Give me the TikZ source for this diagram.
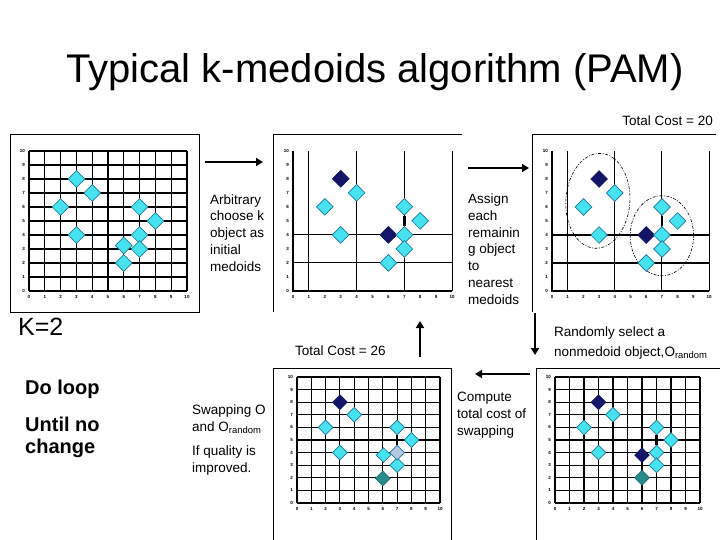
\documentclass[tikz,border=0pt]{standalone}
\usepackage{fontspec}
\setmainfont{Liberation Sans}
\usetikzlibrary{arrows.meta,positioning,shapes.geometric}
\definecolor{ptcyan}{RGB}{70,226,240}
\definecolor{ptedge}{RGB}{30,120,150}
\definecolor{ptnavy}{RGB}{20,20,105}
\definecolor{ptteal}{RGB}{40,140,140}
\definecolor{ptpale}{RGB}{180,200,225}

\begin{document}
\begin{tikzpicture}[x=1pt,y=-1pt,
    frame/.style={line width=1pt},
    gridln/.style={line width=1.1pt},
    tick/.style={font=\fontsize{4.5}{5}\selectfont\bfseries, inner sep=0pt},
    ptc/.style={diamond, draw=ptedge, line width=0.7pt, fill=ptcyan, inner sep=0pt, minimum size=17pt},
    ptn/.style={ptc, draw=ptnavy, fill=ptnavy},
    ptt/.style={ptc, draw=ptteal!80!black, fill=ptteal},
    ptl/.style={ptc, draw=ptedge, fill=ptpale},
    seg/.style={line width=2.4pt},
    cluster/.style={line width=0.6pt, dash pattern=on 3pt off 1.5pt on 1pt off 1.5pt},
    txt/.style={font=\fontsize{13.5}{16.7}\selectfont, inner sep=0pt, align=left},
    big/.style={font=\fontsize{20}{22}\selectfont\bfseries, inner sep=0pt, align=left},
    flow/.style={line width=2.5pt, -{Triangle[length=7pt,width=8pt]}}
  ]
  \useasboundingbox[fill=white] (0,0) rectangle (720,540);

  % title
  \node[font=\fontsize{40}{44}\selectfont, inner sep=0pt, anchor=base] (title) at (375,83) {Typical k-medoids algorithm (PAM)};

  % plot frames
  \draw[frame] (10,135) rectangle (199,312);
  \draw[frame] (273,312) -- (273,135) -- (462,135);
  \draw[frame] (532,312) -- (532,135) -- (716,135);
  \draw[frame] (273,540) -- (273,368) -- (451,368) -- (451,540);
  \draw[frame] (536,540) -- (536,368) -- (720,368);

  % plot A: data set
  \begin{scope}[shift={(29,291)}, x=15.8pt, y=14pt]
    \foreach \k in {0,...,10} {
      \draw[gridln] (\k,0) -- (\k,10);
      \draw[gridln] (0,\k) -- (10,\k);
      \node[tick, left=4pt] (A-y\k) at (0,\k) {\k};
      \node[tick, below=4pt] (A-x\k) at (\k,0) {\k};
    }
    \foreach \nm/\px/\py in {26/2/6, 38/3/8, 47/4/7, 34/3/4, 76/7/6, 85/8/5, 74/7/4, 64/6/3.25, 73/7/3, 62/6/2}
      \node[ptc] (A-\nm) at (\px,\py) {};
  \end{scope}

  % plot B: initial medoids
  \begin{scope}[shift={(293,291)}, x=15.9pt, y=14.03pt]
    \draw[gridln] (0,10) -- (0,0) -- (10,0);
    \draw[line width=0.6pt] (10,0) -- (10,10);
    \foreach \k in {1,4,7} \draw[gridln] (\k,0) -- (\k,10);
    \foreach \k in {2,4} \draw[gridln] (0,\k) -- (10,\k);
    \foreach \k in {0,...,10} {
      \node[tick, left=4pt] (B-y\k) at (0,\k) {\k};
      \node[tick, below=4pt] (B-x\k) at (\k,0) {\k};
    }
    \node[ptn] (B-38) at (3,8) {};
    \node[ptn] (B-64) at (6,4) {};
    \foreach \nm/\px/\py in {26/2/6, 47/4/7, 34/3/4, 76/7/6, 85/8/5, 74/7/4, 73/7/3, 62/6/2}
      \node[ptc] (B-\nm) at (\px,\py) {};
    \draw[seg] (B-76) -- (B-74);
  \end{scope}

  % plot C: clusters
  \begin{scope}[shift={(552,291)}, x=15.7pt, y=14pt]
    \draw[gridln] (0,10) -- (0,0) -- (10,0);
    \draw[line width=0.6pt] (10,0) -- (10,10);
    \foreach \k in {1,4,7} \draw[gridln] (\k,0) -- (\k,10);
    \foreach \k in {2,4} \draw[gridln] (0,\k) -- (10,\k);
    \foreach \k in {0,...,10} {
      \node[tick, left=4pt] (C-y\k) at (0,\k) {\k};
      \node[tick, below=4pt] (C-x\k) at (\k,0) {\k};
    }
    \draw[cluster, rotate around={-4:(2.92,6.44)}] (2.92,6.44) ellipse [x radius=32pt, y radius=47.5pt];
    \draw[cluster] (7,3.95) ellipse [x radius=31.7pt, y radius=40pt];
    \node[ptn] (C-38) at (3,8) {};
    \node[ptn] (C-64) at (6,4) {};
    \foreach \nm/\px/\py in {26/2/6, 47/4/7, 34/3/4, 76/7/6, 85/8/5, 74/7/4, 73/7/3, 62/6/2}
      \node[ptc] (C-\nm) at (\px,\py) {};
    \draw[seg] (C-76) -- (C-74);
  \end{scope}

  % plot D: swap cost 26
  \begin{scope}[shift={(297,503)}, x=14.3pt, y=12.6pt, ptc/.append style={minimum size=15pt}]
    \foreach \k in {0,...,10} {
      \draw[gridln] (\k,0) -- (\k,10);
      \draw[gridln] (0,\k) -- (10,\k);
      \node[tick, left=4pt] (D-y\k) at (0,\k) {\k};
      \node[tick, below=4pt] (D-x\k) at (\k,0) {\k};
    }
    \node[ptn] (D-38) at (3,8) {};
    \foreach \nm/\px/\py in {47/4/7, 26/2/6, 34/3/4, 76/7/6, 85/8/5, 64/6.05/3.8, 73/7/3}
      \node[ptc] (D-\nm) at (\px,\py) {};
    \node[ptl] (D-74) at (7,4) {};
    \node[ptt] (D-62) at (6,1.95) {};
    \draw[seg] (D-76) -- (D-74);
  \end{scope}

  % plot E: random object
  \begin{scope}[shift={(555,503)}, x=14.5pt, y=12.6pt, ptc/.append style={minimum size=15pt}]
    \foreach \k in {0,...,10} {
      \draw[gridln] (\k,0) -- (\k,10);
      \draw[gridln] (0,\k) -- (10,\k);
      \node[tick, left=4pt] (E-y\k) at (0,\k) {\k};
      \node[tick, below=4pt] (E-x\k) at (\k,0) {\k};
    }
    \node[ptn] (E-38) at (3,8) {};
    \node[ptn] (E-64) at (6,3.8) {};
    \foreach \nm/\px/\py in {47/4/7, 26/2/6, 34/3/4, 76/7/6, 85/8/5, 74/7/4, 73/7/3}
      \node[ptc] (E-\nm) at (\px,\py) {};
    \node[ptt] (E-62) at (6,2) {};
    \draw[seg] (E-76) -- (E-74);
  \end{scope}

  % texts (base anchor = last line)
  \node[txt, anchor=base east] (cost20) at (713,126) {Total Cost = 20};
  \node[txt, anchor=base west] (choose) at (210,271) {Arbitrary\\choose k\\object as\\initial\\medoids};
  \node[txt, anchor=base west] (assign) at (468,304) {Assign\\each\\remainin\\g object\\to\\nearest\\medoids};
  \node[font=\fontsize{25}{27}\selectfont, inner sep=0pt, anchor=base west] (kval) at (18,335) {K=2};
  \node[txt, anchor=base west] (cost26) at (295,355) {Total Cost = 26};
  \node[txt, anchor=base west] (select) at (554,356) {Randomly select a\\[3pt]nonmedoid object,O\textsubscript{random}};
  \node[big, anchor=base west] (doloop) at (25,394) {Do loop};
  \node[big, anchor=base west] (until) at (25,453) {Until no\\change};
  \node[txt, anchor=base west] (swap) at (192,431) {Swapping O\\and O\textsubscript{random}};
  \node[txt, anchor=base west] (quality) at (192,472) {If quality is\\improved.};
  \node[txt, anchor=base west] (compute) at (457,435) {Compute\\total cost of\\swapping};

  % arrows between steps
  \coordinate (s1) at (205,162);  \coordinate (e1) at (263,162);
  \coordinate (s2) at (468,168);  \coordinate (e2) at (529,168);
  \coordinate (s3) at (535,313);  \coordinate (e3) at (535,355);
  \coordinate (s4) at (420,357);  \coordinate (e4) at (420,321);
  \coordinate (s5) at (530,374);  \coordinate (e5) at (475,374);
  \draw[flow] (s1) -- (e1);
  \draw[flow] (s2) -- (e2);
  \draw[flow] (s3) -- (e3);
  \draw[flow] (s4) -- (e4);
  \draw[flow] (s5) -- (e5);
\end{tikzpicture}
\end{document}
